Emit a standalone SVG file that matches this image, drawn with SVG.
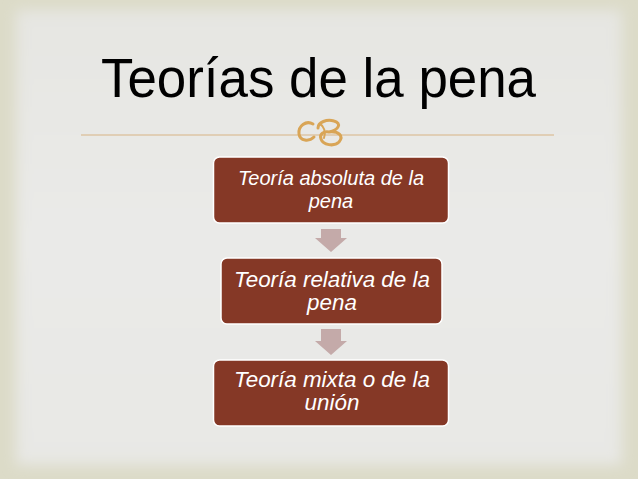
<svg xmlns="http://www.w3.org/2000/svg" width="638" height="479" viewBox="0 0 638 479">
<defs>
<filter id="soft" x="-5%" y="-5%" width="110%" height="110%"><feGaussianBlur stdDeviation="7"/></filter>
<linearGradient id="inner" x1="0" y1="0" x2="0" y2="1">
<stop offset="0" stop-color="#e6e6e2"/>
<stop offset="0.5" stop-color="#eaeae8"/>
<stop offset="1" stop-color="#e8e8e5"/>
</linearGradient>
<marker id="none" markerWidth="1" markerHeight="1"/>
</defs>
<style>
.box{fill:#853826;stroke:#ffffff;stroke-width:1.5}
.bt{font-family:"Liberation Sans",Arial,sans-serif;font-style:italic;fill:#ffffff;text-anchor:middle}
.arr{fill:#c4aaa9}
.title{font-family:"Liberation Sans",Arial,sans-serif;font-size:56px;fill:#000000}
</style>
<rect x="0" y="0" width="638" height="479" fill="#dcdbc8"/>
<rect x="16" y="10" width="606" height="455" fill="url(#inner)" filter="url(#soft)"/>
<g id="title">
<text class="title" x="101" y="97" textLength="435" lengthAdjust="spacingAndGlyphs">Teorías de la pena</text>
<line x1="81" y1="135" x2="554" y2="135" stroke="#d8b384" stroke-width="1.2"/>
<g id="ornament" fill="none" stroke="#d9a556" stroke-linecap="round">
<path d="M313 124 C306 120 298 126 299 134 C300 141 309 142 314 137" stroke-width="3"/>
<path d="M318 128 C318 122 327 119 334 121 C342 123 339 130 329 132 C339 131 344 136 339 142 C334 147 323 145 321 139 C319 134 324 131 329 132" stroke-width="3"/>
<path d="M320 124 C324 126 326 132 324 138" stroke-width="2"/>
</g>
</g>
<g id="connectors">
<polygon class="arr" points="321,229 341,229 341,238 347,238 331,252 315,238 321,238"/>
<polygon class="arr" points="321,329 341,329 341,341 347,341 331,355 315,341 321,341"/>
</g>
<g id="node1">
<rect class="box" x="213.5" y="157" width="235" height="66" rx="6"/>
<text class="bt" x="331" y="185" font-size="20">Teoría absoluta de la</text>
<text class="bt" x="331" y="208" font-size="20">pena</text>
</g>
<g id="node2">
<rect class="box" x="221" y="258" width="221" height="66" rx="6"/>
<text class="bt" x="332" y="287" font-size="22.4">Teoría relativa de la</text>
<text class="bt" x="332" y="310" font-size="22.4">pena</text>
</g>
<g id="node3">
<rect class="box" x="213.5" y="360" width="235" height="66" rx="6"/>
<text class="bt" x="332" y="387" font-size="22.4">Teoría mixta o de la</text>
<text class="bt" x="332" y="410" font-size="22.4">unión</text>
</g>
</svg>
